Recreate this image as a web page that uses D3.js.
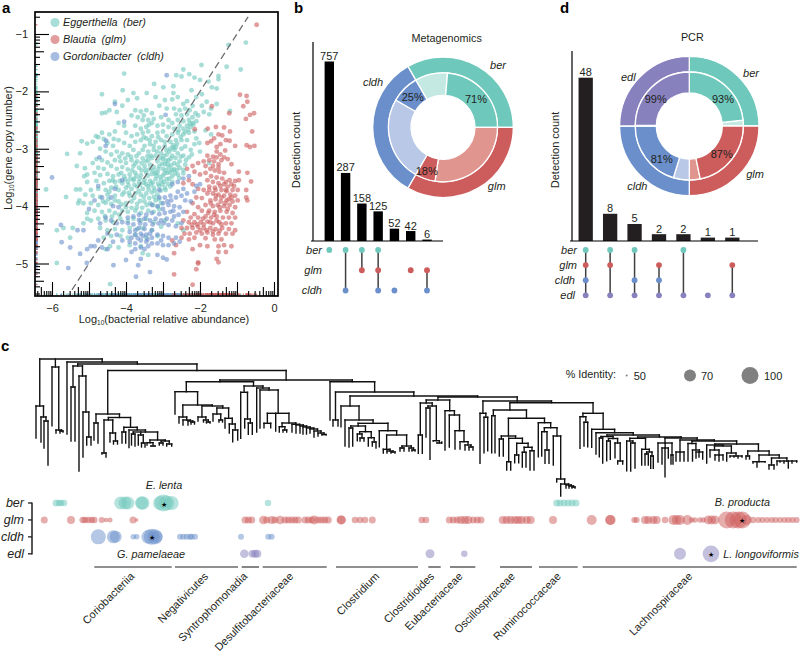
<!DOCTYPE html>
<html><head><meta charset="utf-8">
<style>html,body{margin:0;padding:0;background:#fff}svg{display:block}text{font-family:"Liberation Sans",Arial,sans-serif;fill:#231f20}</style>
<script src="https://cdn.jsdelivr.net/npm/d3@7"></script>
</head><body><svg id="c" width="800" height="652"></svg>
<script>
// ---------- panel a data: log10(abundance), log10(copies)
const berPoints=[[-.76,-1.15],[-1.23,-1.19],[-.9,-1.62],[-1.28,-1.57],[-1.96,-1.54],[-1.5,-1.73],[-1.5,-1.79],[-4.05,-1.69],[-2.45,-1.62],[-2.29,-1.7],[-2.64,-1.72],[-2.5,-1.74],[-3.24,-1.87],[-2.15,-1.76],[-2,-1.8],[-1.77,-1.83],[-1.68,-1.93],[-1.55,-1.95],[-2.72,-1.91],[-2.99,-1.93],[-4.65,-2.05],[-4.09,-1.98],[-3.8,-2.03],[-3.44,-2.03],[-2.72,-2.03],[-2.23,-1.98],[-1.19,-2.34],[-1.82,-2.18],[-1.55,-2.22],
[-4.3,-2.18],[-3.95,-2.15],[-3.7,-2.12],[-3.2,-2.1],[-2.95,-2.15],[-2.75,-2.14],[-2.6,-2.1],[-2.35,-2.17],[-2.1,-2.1],[-1.95,-2.05],[-2.45,-2.22],[-2.2,-2.25],[-1.95,-2.25],[-1.7,-2.3],[-4.45,-2.33],[-4.65,-2.38],[-4.55,-2.37],[-4.25,-2.36],[-4.1,-2.25],[-3.75,-2.33],[-3.6,-2.35],[-3.45,-2.33],[-3.3,-2.38],[-3.1,-2.25],[-2.9,-2.3],[-2.7,-2.3],[-2.55,-2.33],[-2.4,-2.3],[-2.28,-2.33],[-2.12,-2.38],[-1.9,-2.36],[-1.75,-2.4],[-2.65,-2.4],[-2.5,-2.42],[-2.35,-2.4],[-2.2,-2.45],[-2.05,-2.42],
[-4.2,-2.55],[-4.05,-2.6],[-3.85,-2.42],[-3.55,-2.5],[-3.4,-2.5],[-3.25,-2.48],[-3.05,-2.45],[-2.85,-2.5],[-2.75,-2.55],[-2.6,-2.5],[-2.45,-2.52],[-2.3,-2.5],[-2.2,-2.55],[-2.1,-2.52],[-2.35,-2.6],[-2.25,-2.62],[-2.45,-2.65],[-2.55,-2.6],[-2.7,-2.65],[-2.85,-2.62],[-3,-2.58],[-3.15,-2.6],[-3.3,-2.55],[-3.45,-2.62],[-3.6,-2.65],[-3.75,-2.6],[-4.65,-2.72],[-4.75,-2.8],[-4.6,-2.83],[-4.45,-2.75],[-4.3,-2.7],[-4.0,-2.72],[-3.85,-2.78],[-3.7,-2.75],[-3.55,-2.72],[-3.4,-2.7],[-3.3,-2.78],[-3.15,-2.72],[-3,-2.7],[-2.9,-2.78],[-2.75,-2.75],[-2.6,-2.72],[-2.45,-2.75],[-2.3,-2.72],[-2.15,-2.7],[-1.85,-2.68],[-1.7,-2.75],[-2.5,-2.85],[-2.35,-2.85],[-2.65,-2.85],[-2.8,-2.88],
[-4.5,-2.9],[-4.35,-2.95],[-4.2,-2.85],[-4.05,-2.9],[-3.9,-2.95],[-3.75,-2.88],[-3.6,-2.85],[-3.45,-2.82],[-3.5,-2.95],[-3.35,-2.92],[-3.2,-2.88],[-3.05,-2.85],[-3.1,-2.98],[-2.95,-2.95],[-2.8,-3],[-2.65,-2.97],[-2.5,-3],[-2.4,-2.96],[-2.25,-3.02],[-2.15,-2.92],[-2,-3.05],[-4.7,-3],[-4.55,-3.05],[-4.4,-3.1],[-4.25,-3.05],[-4.1,-3.08],[-3.95,-3.1],[-3.8,-3.02],[-3.65,-3.08],[-3.55,-3.02],[-3.4,-3.05],[-3.25,-3.02],[-3.2,-3.12],[-3.05,-3.08],[-2.9,-3.1],[-2.75,-3.12],[-2.6,-3.08],[-2.45,-3.12],[-2.3,-3.15],[-1.75,-3.25],[-4.8,-3.18],[-4.65,-3.2],[-4.5,-3.24],[-4.3,-3.2],[-4.15,-3.22],[-4,-3.25],[-3.85,-3.2],[-3.7,-3.22],[-3.55,-3.17],[-3.4,-3.2],[-3.3,-3.16],[-3.15,-3.22],[-3,-3.18],[-2.95,-3.27],[-2.85,-3.2],[-2.7,-3.25],[-2.55,-3.22],[-2.4,-3.28],[-2.55,-3.33],[-2.7,-3.36],[-2.85,-3.33],[-3,-3.35],[-3.1,-3.3],[-3.25,-3.32],[-3.35,-3.28],[-3.5,-3.3],[-3.65,-3.33],[-3.8,-3.3],[-3.95,-3.36],[-4.1,-3.32],[-4.25,-3.35],[-4.4,-3.3],[-4.6,-3.35],[-4.75,-3.33],[-4.9,-3.25],[-5.11,-3.34],
[-5.05,-3.45],[-4.85,-3.42],[-4.7,-3.46],[-4.5,-3.44],[-4.35,-3.48],[-4.2,-3.45],[-4.05,-3.48],[-3.9,-3.45],[-3.75,-3.42],[-3.6,-3.46],[-3.45,-3.42],[-3.3,-3.44],[-3.15,-3.42],[-3,-3.47],[-2.88,-3.42],[-2.75,-3.48],[-2.6,-3.45],[-2.45,-3.43],[-3.05,-3.55],[-2.9,-3.53],[-2.75,-3.58],[-3.2,-3.53],[-3.35,-3.56],[-3.5,-3.54],[-3.65,-3.58],[-3.8,-3.55],[-3.95,-3.58],[-4.1,-3.6],[-4.3,-3.58],[-4.45,-3.56],[-4.6,-3.6],[-4.8,-3.56],[-5.05,-3.58],[-5.13,-3.48],[-5.24,-3.71],[-5.35,-3.71],[-4.95,-3.72],[-4.75,-3.7],[-4.55,-3.72],[-4.4,-3.68],[-4.2,-3.72],[-4,-3.68],[-3.85,-3.7],[-3.7,-3.66],[-3.55,-3.7],[-3.4,-3.65],[-3.25,-3.68],[-3.1,-3.65],[-2.95,-3.68],[-2.8,-3.66],[-3.45,-3.78],[-3.6,-3.8],[-3.3,-3.76],[-3.15,-3.8],[-3.75,-3.78],[-3.9,-3.82],[-4.1,-3.8],[-4.3,-3.82],[-4.5,-3.8],[-4.7,-3.84],[-4.9,-3.82],[-5.1,-3.8],[-5.26,-3.9],[-5.29,-3.95],[-5.15,-3.95],[-4.95,-3.95],[-4.75,-3.98],[-4.55,-3.94],[-4.4,-3.96],[-4.2,-3.92],[-4,-3.95],[-3.85,-3.92],[-3.7,-3.96],[-3.5,-3.92],[-3.35,-3.95],[-3.2,-3.9],[-3.05,-3.95],
[-4.85,-4.08],[-4.65,-4.1],[-4.45,-4.08],[-4.3,-4.12],[-4.1,-4.08],[-3.95,-4.1],[-3.75,-4.08],[-3.6,-4.12],[-3.4,-4.08],[-3.25,-4.1],[-3.1,-4.06],[-5.05,-4.12],[-4.95,-4.25],[-4.75,-4.22],[-4.55,-4.25],[-4.35,-4.28],[-4.15,-4.22],[-3.95,-4.26],[-3.8,-4.22],[-3.6,-4.25],[-3.45,-4.22],[-3.25,-4.28],[-2.95,-4.25],[-2.6,-4.3],[-2.45,-4.42],[-5.05,-4.22],[-5.15,-4.3],[-4.7,-4.38],[-4.5,-4.42],[-4.3,-4.4],[-4.1,-4.42],[-3.9,-4.38],[-3.7,-4.4],[-3.55,-4.38],[-3.3,-4.42],[-3.05,-4.36],[-4.6,-4.55],[-4.4,-4.52],[-4.15,-4.52],[-3.95,-4.55],[-3.75,-4.5],[-3.45,-4.55],[-3.15,-4.52],[-4.43,-4.7],[-4.2,-4.72],[-3.9,-4.68],[-3.6,-4.7],[-3.4,-4.85],[-3.55,-4.82],[-4.55,-4.75],[-4.43,-5.36],[-5.87,-4.99],[-6.16,-3.71],[-5.59,-3.09],[-5.87,-4.42],[-5.69,-4.38],[-5.44,-4.38],[-5.51,-4.55],[-5.62,-3.84],[-5.33,-3.3],[-5.24,-3.08],[-5.2,-2.87],[-5.05,-2.91],[-4.9,-2.88],[-4.81,-2.78]];
const berDense=[[-2.18,-2.58],[-2.27,-2.56],[-2.33,-2.67],[-2.41,-2.71],[-2.52,-2.79],[-2.62,-2.91],[-2.73,-2.94],[-2.58,-2.68],[-2.69,-3.02],[-2.83,-3.05],[-2.91,-3.02],[-2.98,-3.13],[-3.07,-3.16],[-2.79,-3.17],[-2.66,-3.16],[-2.52,-3.14],[-2.61,-3.28],[-2.78,-3.29],[-2.92,-3.21],[-3.03,-3.26],[-3.13,-3.36],[-2.93,-3.38],[-2.81,-3.41],[-2.68,-3.43],[-2.56,-3.51],[-2.83,-3.52],[-2.96,-3.43],[-3.08,-3.49],[-3.18,-3.47],[-3.26,-3.38],[-3.36,-3.36],[-3.41,-3.47],[-3.28,-3.59],[-3.13,-3.61],[-2.98,-3.58],[-2.87,-3.61],[-3.47,-3.37],[-3.58,-3.38],[-3.52,-3.59],[-3.39,-3.71],[-3.22,-3.73],[-3.06,-3.73],[-3.63,-3.52],[-3.72,-3.47],[-3.83,-3.38],[-3.88,-3.52],[-3.77,-3.63],[-3.66,-3.74],[-3.52,-3.84],[-3.37,-3.86],[-3.24,-3.84],[-3.11,-3.88],[-3.93,-3.64],[-4.02,-3.53],[-4.13,-3.42],[-4.17,-3.56],[-4.05,-3.76],[-3.92,-3.77],[-3.78,-3.86],[-3.62,-3.91],[-3.44,-3.98],[-3.56,-4.03],[-3.71,-4.03],[-3.85,-4.03],[-4,-4.02],[-4.12,-3.97],[-3.27,-3.98],[-3.14,-4.01],[-4.27,-3.66],[-4.36,-3.55],[-4.45,-3.75],[-4.3,-3.9],[-4.48,-3.88],[-4.62,-3.92],[-4.18,-4.15],[-4.38,-4.18],[-4.57,-4.17],[-3.68,-2.45],[-3.52,-2.42],[-3.38,-2.58],[-3.52,-2.8],[-3.36,-2.85],[-3.25,-2.95],[-3.42,-3.13],[-3.58,-3.25],[-3.72,-3.13],[-3.87,-3.14],[-4.02,-3.17],[-4.18,-3.14],[-4.33,-2.83],[-3.13,-2.8],[-2.95,-2.88],[-2.72,-2.98],[-3.75,-3.26],[-3.16,-3.05],[-3.47,-3.22],[-3.33,-3.12],[-2.45,-3.37],[-2.38,-3.2],[-2.22,-3.1],[-2.02,-2.9],[-2.1,-2.82],[-2.87,-3.27],[-3.21,-3.43],[-3.02,-3.62],[-2.93,-3.72],[-3.32,-3.62],[-3.46,-3.62],[-3.62,-3.63],[-3.78,-3.52],[-2.76,-3.37],[-2.63,-3.37]];
const glmPoints=[[-.47,-.84],[-.92,-2.06],[-.74,-2.08],[-.72,-2.18],[-.83,-2.26],[-.54,-2.38],[-.65,-2.41],[-.76,-2.48],[-1.21,-2.38],[-1.68,-2.26],[-.59,-2.7],[-.74,-2.94],[-.65,-2.97],[-.53,-2.95],[-1.57,-2.62],[-1.35,-2.63],[-1.19,-2.7],[-1.79,-2.65],[-2.14,-2.66],[-1.5,-2.75],[-1.4,-2.77],[-1.62,-2.82],[-1.3,-2.85],[-1.2,-2.86],[-1.7,-2.87],[-1.8,-2.9],[-1.45,-2.92],[-1.55,-2.97],[-1.05,-2.95],[-1.32,-3.03],[-1.45,-3.1],[-1.55,-3.05],[-1.65,-3.14],[-1.8,-3.12],[-1.35,-3.15],[-1.25,-3.18],[-1.62,-3.22],[-1.75,-3.2],[-1.9,-3.22],[-2.05,-3.25],[-2.2,-3.3],[-2.35,-3.35],[-2.15,-3.4],[-1.85,-3.3],[-1.5,-3.27],[-1.15,-3.27],[-.95,-3.4],[-.72,-3.42],[-1.72,-3.35],[-1.6,-3.38],[-1.48,-3.4],[-1.35,-3.42],[-1.85,-3.42],[-2,-3.45],[-1.7,-3.48],[-1.55,-3.5],[-1.4,-3.52],[-2.3,-3.55],[-2.45,-3.6],[-2.2,-3.62],[-1.8,-3.55],[-1.65,-3.58],[-1.2,-3.55],[-1.05,-3.56],[-.95,-3.55],[-.62,-3.57],[-1.5,-3.6],[-1.35,-3.62],[-1.25,-3.66],[-1.15,-3.62],[-1.75,-3.66],[-1.6,-3.68],[-1.9,-3.72],[-2.05,-3.7],[-1.42,-3.72],[-1.28,-3.74],[-1.12,-3.72],[-.98,-3.72],[-.75,-3.72],[-1.8,-3.78],[-1.65,-3.78],[-1.5,-3.8],[-1.35,-3.82],[-1.18,-3.8],[-1.05,-3.82],[-.75,-3.85],[-.72,-3.9],[-2.1,-3.85],[-1.95,-3.86],[-1.72,-3.9],[-1.58,-3.88],[-1.44,-3.92],[-1.28,-3.9],[-1.12,-3.92],[-.98,-3.9],[-2.2,-3.95],[-1.85,-3.98],[-1.65,-4],[-1.52,-3.98],[-1.35,-4],[-1.2,-3.98],[-1.05,-4.02],[-2.05,-4.02],[-1.95,-4.08],[-1.75,-4.08],[-1.6,-4.1],[-1.45,-4.08],[-1.28,-4.1],[-1.12,-4.12],[-2.35,-4.1],[-2.15,-4.14],[-2.25,-4.2],[-2.05,-4.2],[-1.85,-4.18],[-1.7,-4.2],[-1.55,-4.18],[-1.38,-4.2],[-1.22,-4.2],[-1.05,-4.2],[-2.45,-4.25],[-2.3,-4.28],[-2.15,-4.28],[-1.98,-4.28],[-1.8,-4.27],[-1.65,-4.3],[-1.48,-4.28],[-1.3,-4.3],[-1.15,-4.3],[-2.5,-4.38],[-2.35,-4.38],[-2.2,-4.38],[-2.05,-4.36],[-1.9,-4.38],[-1.72,-4.38],[-1.58,-4.4],[-1.4,-4.38],[-1.22,-4.4],[-1.05,-4.42],[-2.42,-4.48],[-2.28,-4.48],[-2.1,-4.46],[-1.95,-4.48],[-1.8,-4.46],[-1.65,-4.5],[-1.5,-4.48],[-1.3,-4.48],[-1.12,-4.48],[-2.5,-4.55],[-2.3,-4.58],[-2.15,-4.55],[-1.85,-4.56],[-1.6,-4.58],[-1.42,-4.58],[-2.75,-4.6],[-2,-4.68],[-1.8,-4.7],[-1.5,-4.7],[-1.35,-4.68],[-1.15,-4.7],[-2.65,-4.68],[-2.7,-4.82],[-2.2,-4.75],[-1.5,-4.8],[-1.3,-4.8],[-1.55,-4.92],[-1.5,-4.98],[-2.05,-4.98],[-2.1,-5.1],[-2.05,-5],[-2.7,-5.19],[-2.2,-5.37],[-1.71,-3.95],[-1.57,-3.82],[-1.42,-3.85],[-1.3,-3.72],[-1.22,-3.88],[-1.47,-4.02],[-1.62,-4.15],[-1.78,-4.12],[-1.92,-4.22],[-1.73,-4.28],[-1.55,-4.25],[-1.42,-4.32],[-1.9,-4.32],[-2.08,-4.32],[-2.22,-4.33],[-1.82,-4.42],[-1.65,-4.44],[-1.47,-4.43],[-2,-4.42],[-1.32,-3.95],[-1.15,-3.85],[-1.25,-4.05],[-1.08,-3.65],[-1.3,-3.58],[-1.45,-3.65],[-1.58,-3.72],[-1.75,-3.72],[-1.5,-3.33],[-1.65,-3.3],[-1.42,-3.2],[-1.55,-3.15]];
const cldhPoints=[[-6,-3.5],[-5.56,-5.08],[-5.06,-4.99],[-5.76,-4.33],[-5.74,-4.63],[-5.51,-4.72],[-5.31,-4.42],[-5.24,-4.83],[-4.3,-2.22],[-2.9,-1.72],[-2.93,-2.41],[-4.05,-2.53],[-4.54,-2.86],[-4.72,-3.15],[-3.73,-5.23],[-3.35,-5.15],[-3.67,-5.03],[-4.34,-5.03],[-4,-4.94],[-4.95,-4.7],[-4.85,-4.7],[-4.65,-4.72],[-4.35,-4.62],[-4.5,-4.48],[-4.25,-4.5],[-4.1,-4.6],[-3.9,-4.62],[-3.75,-4.65],[-3.6,-4.6],[-3.45,-4.62],[-3.3,-4.65],[-3.15,-4.65],[-3,-4.68],[-2.85,-4.68],[-2.7,-4.65],[-3.6,-4.72],[-3.5,-4.75],[-3.4,-4.7],[-3.75,-4.75],[-3.85,-4.8],[-3.15,-4.85],[-3,-4.9],[-2.9,-4.93],[-3.6,-4.92],[-3.3,-4.55],[-3.45,-4.5],[-3.6,-4.48],[-3.75,-4.5],[-3.9,-4.45],[-3.3,-4.42],[-3.5,-4.4],[-3.65,-4.38],[-3.15,-4.5],[-3,-4.52],[-2.85,-4.55],[-2.65,-4.55],[-2.55,-4.62],[-3.8,-4.32],[-3.95,-4.3],[-4.1,-4.28],[-4.25,-4.3],[-4.4,-4.25],[-4.55,-4.2],[-4.7,-4.3],[-3.65,-4.24],[-3.5,-4.22],[-3.35,-4.25],[-3.2,-4.22],[-3.05,-4.25],[-2.9,-4.22],[-2.75,-4.25],[-2.65,-4.35],[-2.5,-4.3],[-3.8,-4.18],[-3.95,-4.2],[-3.65,-4.15],[-3.45,-4.15],[-3.3,-4.12],[-3.1,-4.14],[-2.95,-4.12],[-2.8,-4.1],[-2.7,-4.18],[-4.2,-4.02],[-4.35,-4],[-4.65,-3.85],[-4.4,-3.85],[-3.3,-3.98],[-3.15,-4],[-3,-3.95],[-2.85,-3.98],[-2.7,-4],[-2.55,-4.02],[-2.45,-4.1],[-2.4,-3.9],[-2.25,-3.92],[-3.1,-3.85],[-2.95,-3.85],[-2.8,-3.82],[-2.65,-3.85],[-2.5,-3.82],[-2.35,-3.78],[-2.45,-3.7],[-2.6,-3.75],[-3.1,-3.72],[-2.75,-3.62],[-2.6,-3.58],[-2.45,-3.52],[-2.3,-3.48],[-2.1,-3.65],[-2,-3.62],[-2.15,-3.75],[-4.55,-2.95],[-4.1,-3.55],[-4.3,-3.7],[-4.75,-3.65],[-4.85,-3.9],[-5,-4.05],[-5.15,-4.42],[-5.05,-4.75],[-4.75,-4.6],[-4.5,-4.75],[-3.55,-4.52],[-3.42,-4.58],[-3.68,-4.56],[-3.35,-4.48],[-3.48,-4.32],[-3.62,-4.3],[-3.75,-4.42],[-3.85,-4.55],[-3.28,-4.32],[-3.12,-4.3],[-2.98,-4.3],[-2.85,-4.33],[-3,-4.05],[-2.88,-3.92],[-2.78,-3.9],[-2.72,-4.08],[-2.58,-4.15],[-3.05,-4.6]];
const legendNames=["Eggerthella (ber)","Blautia (glm)","Gordonibacter (cldh)"];

// ---------- panels b and d
const metaCounts=[757,287,158,125,52,42,6];
const metaRows=["ber","glm","cldh"];
const metaSets=[["ber"],["ber","cldh"],["ber","glm"],["ber","glm","cldh"],["cldh"],["glm"],["glm","cldh"]];
const metaDetected=[71,18,25];
const pcrCounts=[48,8,5,2,2,1,1];
const pcrRows=["ber","glm","cldh","edl"];
const pcrSets=[["ber","glm","cldh","edl"],["ber","glm","edl"],["ber","cldh","edl"],["glm","cldh","edl"],["ber","edl"],["edl"],["glm","edl"]];
const pcrDetected=[93,87,81,99];

// ---------- panel c: tree nodes [branch depth, children...], leaves [leaf position, tip depth]
const N143=[432,[434,[131.5,445],[135,446]],[435,[138.3,445],[443,[141.5,447],[145,447]]],[440,[442.7,[147,445],[446,[151,446],[155,446]]],[441,[443,[159.3,445],[163,445]],[444,[166.7,446],[171.7,446]]]]];
const N107=[414,[423,[94,440],[98,443]],[417.5,[420,[453,[102,454],[106,457]],[433,[110,442],[441,[113.5,444],[117.5,444]]]],[427.3,[432,[122,443],[125.7,443]],[430,[129,447.6],N143]]]];
const N198=[405,[417,[179,423],[420,[183,425],[421,[188,425],[422,[191,424],[194.5,424]]]]],[406,[417,[198,421],[420,[203.5,422],[422,[206.5,423],[210,423]]]],[408,[414,[213,421],[420,[219,422],[222.5,422]]],[418.3,[225,428],[424,[229.3,433],[430,[232.7,441.7],[237.7,440]]]]]]];
const combA=[424.3,[292,432],[425,[296,433],[426,[300,433],[427,[303,434],[428,[306.5,434],[429,[310,433],[431,[314,437],[433,[318,436],[434.5,[322,435],[326,435]]]]]]]]]];
const N275=[413.3,[423.3,[264,427.7],[270.7,427.7]],[275.7,431],[423,[426.7,[279.3,432],[430,[283,432],[286.7,432]]],combA]];
const N253=[386,[392.3,[240.7,438.3],[419,[244.7,428],[423,[248.3,434.3],[252.3,434.3]]]],[388,[256.7,432],[390,[260,428],N275]]];
const N219=[381.7,[391.7,[175,414],N198],N253];
const N396=[435,[449.3,[383.3,453],[451,[387,453],[452,[391,453],[395,453]]]],[446,[448,[400,451],[404,451]],[448,[409,451],[450,[412,451],[415,451]]]]];
const N365=[431.7,[434,[357.3,440.7],[438,[360,441],[364,441]]],[437.7,[368.3,446],[442,[372.3,446],[376,448]]]];
const N350=[406,[341,426.7],[420,[345,446],[423.3,[426,[428,[349,447],[352.7,446]],N365],[430.7,[379.3,446.7],N396]]]];
const N438=[400,[403,[435,[418.3,453.3],[422.3,453.3]],[406,[408,[426,437],[430,459.3]],[440.7,[433.3,441],[443,[437,443],[441.7,442]]]]],[410.7,[445,450],[415,[449.3,447],[430.7,[455,449],[441.7,[460,449],[445,[465,450],[447,[469,450],[473,450]]]]]]]];
const N508=[436,[439,[499.3,456],[503.3,456]],[438.3,[461.7,[506.7,470],[510.7,470]],[443.3,[455,[514.7,462.7],[518.7,462.7]],[447.3,[452.3,[522.3,467],[526,467]],[450.7,[530,470],[534,470]]]]]];
const N544=[422.7,[538.3,456.7],[427.7,[431.7,[541.7,456],[450,[545,463.3],[549,463.3]]],[436,[553.3,465],[479,[556.7,482],[484,[560.7,496],[485,[566,488],[486,[569,488],[487,[572,488],[575,488]]]]]]]]];
const N510=[410,[415.7,[491.7,452.7],[495,452.7]],[418.3,N508,N544]];
const N606=[436.5,[438,[599.3,456.7],[602.7,463]],[438.5,[441,[606.7,460.7],[610.3,459.3]],[443,[615,457.7],[461,[617.7,464],[622.7,464]]]]];
const cladeA=[438.3,[441,[626.7,470.7],[443,[630.7,471],[635,468]]],[449.3,[641.7,465],[452,[454,[645,465],[648.3,465]],[456,[650.7,468.3],[653.3,468.3]]]]];
const cladeD=[445,[706.7,463],[446,[450,[710,457],[455,[715,460],[719,461],[723,460]]],[453,[726.7,461],[456,[730,457],[734,457],[738,458],[742,457]]]]];
const cladeE=[451,[456,[746,459],[749.5,459]],[455,[461.7,[753,463],[757,467],[765,462]],[458,[465,[769,469],[774,469]],[461,[777,465],[780,462],[784,463],[788.3,468],[792,463],[796.7,462]]]]];
const spineS=[437,cladeA,[438,[443,[658,462],[448,[662,464],[665,476.7],[668.3,458]],[455,[671,464],[673,464]]],[440,[452,[676,461],[680,461],[684,461]],[441,[443.5,[688,461],[450,[692.5,461],[452,[696,458],[699,457],[702.7,459]]]],[444,cladeD,cladeE]]]]];
const N592=[413.3,[416.7,[580,448.3],[422.3,[584,446],[587.7,446.7]]],[429.3,[591.7,447.3],[432.7,[596,454],[435,N606,spineS]]]];
const N517=[401,[413.3,[480,463.3],[417.3,[484,452.7],[487.7,450.7]]],[402.7,N510,N592]];
const N353=[381.7,[330,420],[392,[420,[333,426],[338,426]],[396,N350,[397,N438,N517]]]];
const treeRoot=[359,[406,[36,438],[417,[41,442],[421,[44,448],[48,465]]]],[367,[52,425.7],[430,[56,433],[431,[60,433],[63,432]]]],[362,[67,434],[364,[366,[387,[71,441],[75,441]],[376,[79,471],[412,[83,457],[437,[86.7,445],[91,445]]]]],[370.5,N107,[380,N219,N353]]]]];

// homologs: [leaf position, % identity]
const berHits=[[56,60],[59,59],[61,59],[64,59],[120.7,76],[125,76],[128,76],[142.7,80],[141.5,76],[160,82],[163.3,100],[166.7,88],[171.7,82],[268,59],[556.7,60],[560,60],[564,60],[568,60],[572,60],[576,60]];
const glmHits=[[44.3,60],[71,62],[82.7,59],[85,59],[88.3,59],[91.7,59],[94.3,59],[101.7,58],[106,55],[110,56],[133,60],[136.7,53],[245,60],[248.3,60],[251.7,60],[263.3,63],[266.7,60],[271.7,62],[275,60],[280,63],[285,60],[288.3,60],[291.7,60],[295,60],[298.3,60],[305,60],[308.3,60],[311.7,60],[314.3,64],[318.3,60],[321.7,60],[325,60],[328.3,60],[341,64],[341.5,64],[355,59],[360,59],[365,59],[372.3,60],[421.7,59],[426,59],[449.3,60],[453.3,60],[457.3,60],[461,62],[465,62],[468.3,62],[473.3,60],[477.3,60],[481,60],[502.7,62],[506.7,62],[510.7,62],[515,62],[518.3,62],[521.7,62],[526.7,62],[530.7,62],[553,62],[591.7,66],[610,66],[610.7,66],[634.3,58],[636.7,58],[645,62],[648.3,62],[653.3,62],[656.7,62],[665,59],[673.3,66],[676.7,66],[680,66],[687.3,66],[691.7,57],[695,57],[700,57],[703.3,57],[708.3,64],[711.7,64],[715,64],[726.7,100],[733.3,100],[738.3,100],[742.3,100],[746.7,66],[753,59],[758.3,58],[762.5,58],[767,58],[771.5,58],[775.5,58],[780,58],[784.5,58],[788.5,58],[792.5,58],[796.7,58]];
const cldhHits=[[98.3,88],[113.3,76],[115.7,70],[133.3,57],[136.7,57],[148.3,82],[151.7,94],[155,88],[156.7,70],[180,58],[183.3,58],[186.7,58],[190,58],[191.7,58],[195,58],[241,58],[268.3,58],[271.7,58]];
const edlHits=[[244.3,63],[252.3,61],[255,62],[257.3,62],[430,64],[464.3,59],[680,70],[711,98]];
const refStars=[["ber",163.7],["glm",742.3],["cldh",151.7],["edl",711]];
const identityKey=[50,70,100];
const cladeNames=["Coriobacteriia","Negativicutes","Syntrophomonadia","Desulfitobacteriaceae","Clostridium","Clostridioides","Eubacteriaceae","Oscillospiraceae","Ruminococcaceae","Lachnospiraceae"];
const cladeStart=[94.3,175,241.7,262.7,336,428.3,450,500,539,582.7];
const cladeEnd=[171.7,238,259,326.7,418,440.7,475.3,532,577.7,796.7];
const cladeLabelEnd=[135,209,248,294,380,435,463.3,515.7,561.7,693];

// ---------- drawing
const svg=d3.select("#c");
const colour={ber:"#6EC8BC",glm:"#CD5C5C",cldh:"#6A8FCB",edl:"#8781BD"};
const light={ber:"#C4E8E2",glm:"#E0958E",cldh:"#B9C8E6",edl:"#B9C8E6"};
const font=11;
function txt(g,x,y,s,o={}){const t=g.append("text").attr("x",x).attr("y",y).attr("font-size",o.size||font)
 .attr("text-anchor",o.anchor||"middle").attr("font-style",o.italic?"italic":null).attr("font-weight",o.bold?"bold":null).text(s);
 if(o.rotate!=null)t.attr("transform",`rotate(${o.rotate} ${x} ${y})`);return t;}
[["a",2,13],["b",294,13],["c",1,351],["d",560,13]].forEach(([s,x,y])=>txt(svg,x,y,s,{size:15,bold:true,anchor:"start"}).style("fill","#000"));

// panel a
(function(){
 const x=d3.scaleLinear().domain([-6,0]).range([52,274]);
 const y=d3.scaleLinear().domain([-1,-5]).range([34,263.5]);
 const L=x.invert(35),R=x.invert(278),T=y.invert(12),B=y.invert(296);
 const g=svg.append("g");
 const ber=berPoints.concat(berDense);
 const rugSets=[[ber,"ber"],[cldhPoints,"cldh"],[glmPoints,"glm"]];
 rugSets.forEach(([p,k])=>{
  g.append("g").selectAll("line").data(p).join("line").attr("x1",36).attr("x2",37.5).attr("y1",d=>y(d[1])).attr("y2",d=>y(d[1])).attr("stroke",colour[k]).attr("stroke-width",1);
  g.append("g").selectAll("line").data(p).join("line").attr("y1",295).attr("y2",293.5).attr("x1",d=>x(d[0])).attr("x2",d=>x(d[0])).attr("stroke",colour[k]).attr("stroke-width",1);
 });
 [[ber,"ber"],[glmPoints,"glm"],[cldhPoints,"cldh"]].forEach(([p,k])=>{
  g.append("g").selectAll("circle").data(p).join("circle").attr("cx",d=>x(d[0])).attr("cy",d=>y(d[1])).attr("r",2.45).attr("fill",colour[k]).attr("opacity",.6);
 });
 g.append("line").attr("x1",x(-5.46)).attr("y1",y(-5.46)).attr("x2",x(-.7)).attr("y2",y(-.7)).attr("stroke","#6d6e71").attr("stroke-width",1.3).attr("stroke-dasharray","7 4");
 const logVals=(lo,hi,ms)=>{const o=[];for(let k=-7;k<=0;k++)ms.forEach(m=>{const v=k+Math.log10(m);if(v>lo&&v<hi)o.push(v);});return o;};
 const frameX=d3.scaleLinear().domain([L,R]).range([35,278]);
 const frameY=d3.scaleLinear().domain([T,B]).range([12,296]);
 [[[1],14],[[5],9],[[2,3,4,6,7,8,9],5]].forEach(([ms,len])=>{
  const ax=g.append("g").attr("transform","translate(35,0)").call(d3.axisRight(frameY).tickValues(logVals(B,T,ms)).tickSize(len).tickFormat(""));
  const bx=g.append("g").attr("transform","translate(0,296)").call(d3.axisTop(frameX).tickValues(logVals(L,R,ms)).tickSize(len).tickFormat(""));
  [ax,bx].forEach(s=>{s.select(".domain").remove();s.selectAll("line").attr("stroke","#000").attr("stroke-width",1.1);});
 });
 g.append("rect").attr("x",35).attr("y",12).attr("width",243).attr("height",284).attr("fill","none").attr("stroke","#000").attr("stroke-width",1.7);
 const fmt=d3.format("d");
 const ly=g.append("g").attr("transform","translate(35,0)").call(d3.axisLeft(y).tickValues([-1,-2,-3,-4,-5]).tickSize(0).tickPadding(7).tickFormat(fmt));
 const lx=g.append("g").attr("transform","translate(0,296)").call(d3.axisBottom(x).tickValues([-6,-4,-2,0]).tickSize(0).tickPadding(8).tickFormat(fmt));
 [ly,lx].forEach(s=>{s.select(".domain").remove();s.selectAll("text").attr("font-size",font).attr("font-family","Liberation Sans");});
 const yl=txt(g,12,148,"",{rotate:-90});
 yl.append("tspan").text("Log");yl.append("tspan").attr("font-size",6.5).attr("dy",2).text("10");yl.append("tspan").attr("dy",-2).text("(gene copy number)");
 const xl=txt(g,164,323,"");
 xl.append("tspan").text("Log");xl.append("tspan").attr("font-size",6.5).attr("dy",2).text("10");xl.append("tspan").attr("dy",-2).text("(bacterial relative abundance)");
 ["ber","glm","cldh"].forEach((k,i)=>{
  const yy=22.5+i*17;
  g.append("circle").attr("cx",55).attr("cy",yy).attr("r",4.5).attr("fill",colour[k]).attr("opacity",.6);
  txt(g,63,yy+3.5,legendNames[i],{anchor:"start",italic:true,size:10.8}).style("word-spacing","2.5px");
 });
})();

// upset + donut
function upset(o){
 const g=svg.append("g");
 const x=d3.scalePoint().domain(d3.range(o.counts.length)).range(o.xRange);
 const y=d3.scaleLinear().domain([0,o.maxCount]).range([o.base,o.base-o.barPx]);
 const ry=d3.scalePoint().domain(o.rows).range(o.rowRange);
 g.selectAll("rect.bar").data(o.counts).join("rect").attr("class","bar").attr("x",(d,i)=>x(i)-o.barW/2).attr("width",o.barW).attr("y",d=>y(d)).attr("height",d=>o.base-y(d)).attr("fill",o.barFill);
 g.append("line").attr("x1",o.axisX).attr("x2",o.axisX).attr("y1",o.axisTop).attr("y2",o.base).attr("stroke","#000").attr("stroke-width",1.2);
 g.append("line").attr("x1",o.axisX-2).attr("x2",o.baseEnd).attr("y1",o.base).attr("y2",o.base).attr("stroke","#000").attr("stroke-width",1.2);
 o.counts.forEach((c,i)=>txt(g,x(i),y(c)-1.5,c,{size:11}));
 txt(g,o.axisX-13.5,150,"Detection count",{rotate:-90,size:11});
 o.rows.forEach(r=>txt(g,o.rowLabelX[r],ry(r)+3.5,r,{anchor:"end",italic:true,size:11}));
 o.sets.forEach((s,i)=>{
  if(s.length>1){const ys=s.map(ry);g.append("line").attr("x1",x(i)).attr("x2",x(i)).attr("y1",d3.min(ys)).attr("y2",d3.max(ys)).attr("stroke","#404041").attr("stroke-width",1.5);}
  s.forEach(r=>g.append("circle").attr("cx",x(i)).attr("cy",ry(r)).attr("r",2.9).attr("fill",colour[r]));
 });
 const d=svg.append("g").attr("transform",`translate(${o.cx},${o.cy})`);
 const arc=d3.arc().padAngle(0);
 const pie=d3.pie().sort(null).startAngle(o.start).endAngle(o.start+2*Math.PI).value(()=>1)(o.keys);
 pie.forEach((p,i)=>{
  const k=o.keys[i],pct=o.detected[i],span=p.endAngle-p.startAngle;
  d.append("path").attr("d",arc({innerRadius:o.r1,outerRadius:o.r2,startAngle:p.startAngle,endAngle:p.endAngle})).attr("fill",colour[k]).attr("stroke","#fff").attr("stroke-width",1.3);
  const a=o.darkFirst[i]?p.startAngle:p.endAngle-span*pct/100, b=a+span*pct/100;
  const lightA=o.darkFirst[i]?b:p.startAngle, lightB=o.darkFirst[i]?p.endAngle:a;
  d.append("path").attr("d",arc({innerRadius:o.r0,outerRadius:o.r1,startAngle:lightA,endAngle:lightB})).attr("fill",light[k]).attr("stroke","#fff").attr("stroke-width",1.3);
  d.append("path").attr("d",arc({innerRadius:o.r0,outerRadius:o.r1,startAngle:a,endAngle:b})).attr("fill",colour[k]).attr("stroke","#fff").attr("stroke-width",1.3);
 });
 o.keys.forEach((k,i)=>{txt(d,o.pctPos[i][0]-o.cx,o.pctPos[i][1]-o.cy,o.detected[i]+"%",{size:11});
  txt(d,o.namePos[i][0]-o.cx,o.namePos[i][1]-o.cy,k,{italic:true,size:11});});
 txt(svg,o.titlePos[0],o.titlePos[1],o.title,{size:10.8});
}
upset({counts:metaCounts,sets:metaSets,rows:metaRows,keys:["ber","glm","cldh"],detected:metaDetected,darkFirst:[false,false,false],
 xRange:[329.3,427],maxCount:757,base:241,barPx:179.5,barW:9.4,barFill:"#000",axisX:313,axisTop:42,baseEnd:443,rowRange:[250,290.5],
 rowLabelX:{ber:322,glm:322,cldh:322},cx:443,cy:127.3,r0:32,r1:54.5,r2:70.3,start:-Math.PI/6,
 pctPos:[[476,102.5],[426.7,175.5],[412.7,100.5]],namePos:[[498,68.5],[496.7,190.5],[373,85.5]],titlePos:[446.7,41.5],title:"Metagenomics"});
upset({counts:pcrCounts,sets:pcrSets,rows:pcrRows,keys:["ber","glm","cldh","edl"],detected:pcrDetected,darkFirst:[true,true,false,false],
 xRange:[585.7,732.3],maxCount:48,base:241,barPx:163.3,barW:14.3,barFill:"#231f20",axisX:572,axisTop:51,baseEnd:758,rowRange:[250,295.3],
 rowLabelX:{ber:577,glm:577,cldh:575,edl:575},cx:689.3,cy:126,r0:33,r1:54,r2:69.7,start:0,
 pctPos:[[723,102.5],[721.7,157.5],[661.7,162.5],[655.7,102.5]],namePos:[[751,76.5],[755,177.5],[637.3,190],[628.3,81]],titlePos:[692.3,41],title:"PCR"});

// panel c tree
(function(){
 const g=svg.append("g");
 const tx=d3.scaleLinear().domain([0,800]).range([0,800]);
 const ty=d3.scaleLinear().domain([350,500]).range([350,500]);
 const segs=[];
 (function walk(n){
  if(n.length===2&&typeof n[1]==="number")return n[0];
  const h=n[0],kids=n.slice(1),xs=kids.map(k=>walk(k));
  kids.forEach((k,i)=>{const tip=(k.length===2&&typeof k[1]==="number")?k[1]:k[0];segs.push([xs[i],h,xs[i],tip]);});
  segs.push([d3.min(xs),h,d3.max(xs),h]);
  return (d3.min(xs)+d3.max(xs))/2;
 })(treeRoot);
 g.append("g").selectAll("line").data(segs).join("line").attr("x1",d=>tx(d[0])).attr("y1",d=>ty(d[1])).attr("x2",d=>tx(d[2])).attr("y2",d=>ty(d[3])).attr("stroke","#111").attr("stroke-width",1.4).attr("stroke-linecap","square");

 const rows=["ber","glm","cldh","edl"];
 const ry=d3.scalePoint().domain(rows).range([503,553.8]);
 const r=d3.scaleLinear().domain([50,70,100]).range([1,6,8.5]);
 const hits={ber:berHits,glm:glmHits,cldh:cldhHits,edl:edlHits};
 rows.forEach(k=>{
  g.append("g").selectAll("circle").data(hits[k]).join("circle").attr("cx",d=>tx(d[0])).attr("cy",ry(k)).attr("r",d=>r(d[1])).attr("fill",colour[k]).attr("opacity",.5);
  g.append("line").attr("x1",28).attr("x2",32).attr("y1",ry(k)).attr("y2",ry(k)).attr("stroke","#231f20").attr("stroke-width",1.3);
  txt(g,24,ry(k)+4,k,{anchor:"end",italic:true,size:12.5});
 });
 g.append("line").attr("x1",32).attr("x2",32).attr("y1",ry("ber")-.6).attr("y2",ry("edl")+.6).attr("stroke","#231f20").attr("stroke-width",1.5);
 refStars.forEach(([k,p])=>txt(g,tx(p),ry(k)+3.5,"★",{size:7}).style("fill","#000"));
 txt(g,164,488.5,"E. lenta",{italic:true,size:10.8});
 txt(g,151,558,"G. pamelaeae",{italic:true,size:10.8});
 txt(g,742.3,506,"B. producta",{italic:true,size:10.8});
 txt(g,723.3,557.5,"L. longoviformis",{italic:true,size:10.8,anchor:"start"});
 txt(g,565.7,378,"% Identity:",{anchor:"start",size:10.8});
 [[626.7,633.7],[690,701],[750,764]].forEach(([cx,tx0],i)=>{
  g.append("circle").attr("cx",cx).attr("cy",375.5).attr("r",r(identityKey[i])).attr("fill","#808080");
  txt(g,tx0,379.5,identityKey[i],{anchor:"start",size:11});
 });
 cladeNames.forEach((n,i)=>{
  g.append("line").attr("x1",tx(cladeStart[i])).attr("x2",tx(cladeEnd[i])).attr("y1",567).attr("y2",567).attr("stroke","#231f20").attr("stroke-width",1.1);
  txt(g,tx(cladeLabelEnd[i]),577,n,{anchor:"end",size:11,rotate:-45});
 });
})();
</script></body></html>
